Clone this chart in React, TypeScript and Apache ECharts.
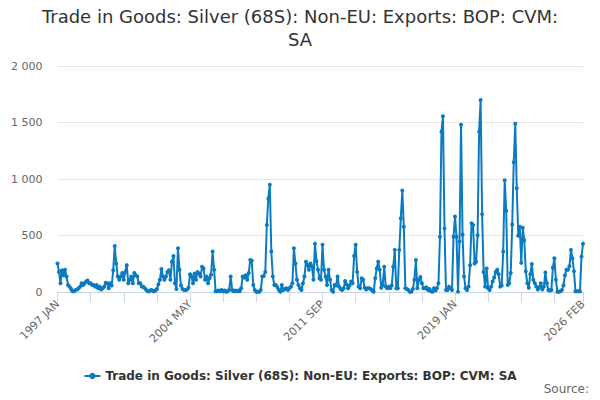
import React, { useEffect, useRef } from 'react';
import * as echarts from 'echarts';

const TITLE = 'Trade in Goods: Silver (68S): Non-EU: Exports: BOP: CVM:\nSA';
const SERIES_NAME = 'Trade in Goods: Silver (68S): Non-EU: Exports: BOP: CVM: SA';
const MONTHS = ['JAN', 'FEB', 'MAR', 'APR', 'MAY', 'JUN', 'JUL', 'AUG', 'SEP', 'OCT', 'NOV', 'DEC'];
const START_YEAR = 1997;
const Y_TICKS = [0, 500, 1000, 1500, 2000];

// monthly values, 1997 JAN .. 2026 FEB
const values = [
  255, 180, 80, 195, 150, 200, 140, 65, 50, 30, 10, 10,
  20, 25, 35, 50, 80, 65, 80, 95, 105, 80, 80, 65,
  65, 50, 65, 35, 50, 25, 35, 50, 85, 80, 35, 80,
  60, 195, 410, 255, 140, 110, 140, 170, 110, 180, 240, 80,
  110, 140, 80, 170, 150, 140, 80, 80, 50, 50, 35, 20,
  10, 10, 20, 15, 10, 15, 30, 70, 110, 205, 140, 110,
  140, 180, 195, 110, 270, 320, 80, 30, 390, 200, 60, 30,
  20, 20, 25, 40, 160, 140, 80, 165, 110, 180, 165, 140,
  225, 210, 110, 140, 80, 125, 155, 360, 200, 10, 10, 15,
  10, 20, 10, 15, 5, 10, 20, 140, 20, 10, 15, 10,
  15, 10, 35, 140, 130, 150, 110, 170, 285, 280, 65, 20,
  5, 5, 5, 20, 140, 145, 180, 595, 830, 950, 360, 140,
  65, 65, 45, 20, 5, 65, 20, 30, 35, 20, 35, 50,
  80, 390, 255, 110, 65, 35, 20, 80, 140, 270, 240, 200,
  255, 230, 110, 430, 275, 200, 125, 110, 420, 200, 140, 65,
  200, 110, 20, 5, 65, 60, 140, 50, 30, 20, 35, 100,
  70, 35, 60, 95, 80, 320, 420, 180, 50, 35, 125, 110,
  40, 25, 35, 35, 30, 15, 5, 125, 210, 270, 200, 40,
  65, 225, 50, 35, 50, 35, 60, 225, 375, 35, 35, 375,
  655, 900, 580, 35, 30, 20, 5, 5, 30, 110, 285, 35,
  110, 135, 80, 35, 35, 45, 20, 30, 10, 5, 35, 15,
  35, 80, 490, 1420, 1555, 565, 20, 20, 50, 35, 20, 490,
  670, 490, 5, 450, 1480, 510, 140, 35, 20, 50, 240, 610,
  595, 255, 270, 505, 1420, 1700, 690, 180, 50, 210, 35, 20,
  50, 95, 130, 180, 200, 160, 50, 60, 360, 990, 720, 65,
  80, 170, 600, 1150, 1490, 920, 500, 580, 260, 570, 460, 185,
  80, 40, 160, 250, 110, 80, 50, 25, 45, 80, 25, 50,
  175, 80, 20, 15, 20, 220, 300, 110, 5, 5, 10, 20,
  60, 150, 200, 200, 230, 375, 300, 185, 10, 10, 10, 10,
  315, 430,
];

const categories = values.map((_, i) => `${START_YEAR + Math.floor(i / 12)} ${MONTHS[i % 12]}`);

const FONT = '"DejaVu Sans", sans-serif';
const LINE_COLOR = '#0a7bc1';

export default function App() {
  const chartRef = useRef<HTMLDivElement>(null);

  useEffect(() => {
    if (!chartRef.current) return;
    const chart = echarts.init(chartRef.current, null, { renderer: 'svg' });
    const last = categories.length - 1;

    chart.setOption({
      animation: false,
      textStyle: { fontFamily: FONT },
      title: {
        text: TITLE,
        left: 'center',
        top: 0,
        textStyle: {
          fontFamily: FONT,
          fontSize: 18,
          fontWeight: 'normal',
          color: '#333333',
          lineHeight: 23,
        },
      },
      legend: {
        top: 365,
        left: 'center',
        itemWidth: 16,
        itemHeight: 8,
        textStyle: { fontFamily: FONT, fontSize: 12, fontWeight: 'bold', color: '#333333' },
        data: [SERIES_NAME],
      },
      grid: { left: 57.5, right: 17, top: 66, bottom: 107.7 },
      xAxis: {
        type: 'category',
        data: categories,
        boundaryGap: false,
        axisLine: { lineStyle: { color: '#ccd6eb' } },
        axisTick: {
          length: 10,
          lineStyle: { color: '#ccd6eb' },
          interval: (i: number) => i % 22 === 0 || i === last,
        },
        axisLabel: {
          rotate: 45,
          margin: 10,
          fontFamily: FONT,
          fontSize: 11,
          color: '#666666',
          interval: (i: number) => i % 88 === 0 || i === last,
        },
      },
      yAxis: {
        type: 'value',
        min: Y_TICKS[0],
        max: Y_TICKS[Y_TICKS.length - 1],
        interval: 500,
        axisLine: { show: false },
        axisTick: { show: false },
        splitLine: { lineStyle: { color: '#e6e6e6' } },
        axisLabel: {
          margin: 15,
          fontFamily: FONT,
          fontSize: 11,
          color: '#666666',
          formatter: (v: number) => String(v).replace(/\B(?=(\d{3})+(?!\d))/g, ' '),
        },
      },
      series: [
        {
          name: SERIES_NAME,
          type: 'line',
          data: values,
          symbol: 'circle',
          symbolSize: 4,
          showAllSymbol: true,
          lineStyle: { color: LINE_COLOR, width: 2 },
          itemStyle: { color: LINE_COLOR },
        },
      ],
      graphic: [
        {
          type: 'text',
          right: 11,
          bottom: 5,
          style: { text: 'Source:', fontFamily: FONT, fontSize: 12, fill: '#666666' },
        },
      ],
    });

    return () => chart.dispose();
  }, []);

  return (
    <div
      ref={chartRef}
      style={{ position: 'absolute', left: 0, top: 0, width: 600, height: 400 }}
    />
  );
}
